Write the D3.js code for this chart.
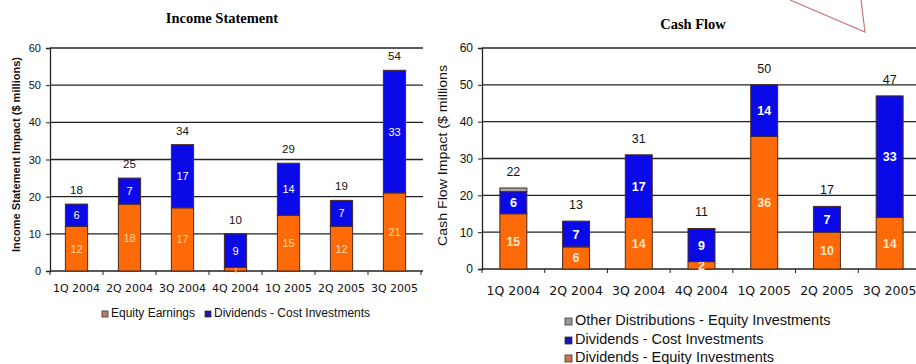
<!DOCTYPE html>
<html>
<head>
<meta charset="utf-8">
<script src="https://cdn.jsdelivr.net/npm/d3@7"></script>
<style>
  body { margin: 0; background: #fff; }
  svg { display: block; }
</style>
</head>
<body>
<svg id="chart" width="916" height="364"></svg>
<script>
// quarters shared by both charts
var quarters = ["1Q 2004", "2Q 2004", "3Q 2004", "4Q 2004", "1Q 2005", "2Q 2005", "3Q 2005"];

// income statement ($ millions)
var equityEarnings = [12, 18, 17, 1, 15, 12, 21];
var incomeCostDividends = [6, 7, 17, 9, 14, 7, 33];

// cash flow ($ millions)
var equityDividends = [15, 6, 14, 2, 36, 10, 14];
var cashCostDividends = [6, 7, 17, 9, 14, 7, 33];
var otherDistributions = [1, 0, 0, 0, 0, 0, 0];

var yTicks = [0, 10, 20, 30, 40, 50, 60];

var ORANGE = "#ff6a08", BLUE = "#0a0ae8", GREY = "#a8a8a8";
var SANS = "Liberation Sans, Arial, sans-serif";

var svg = d3.select("#chart");

// red callout lines at top right
svg.append("path")
    .attr("d", "M790,0 L865,32 L861,0")
    .attr("fill", "none")
    .attr("stroke", "#c87878")
    .attr("stroke-width", 1.2);

function stackedChart(opt) {
    var g = svg.append("g");
    var x = d3.scaleBand()
        .domain(quarters)
        .range([opt.left, opt.right])
        .paddingInner(opt.pad)
        .paddingOuter(opt.pad / 2);
    var y = d3.scaleLinear()
        .domain([0, 60])
        .range([opt.bottom, opt.top]);

    // gridlines
    g.append("g").selectAll("line")
        .data(yTicks.slice(1))
        .enter().append("line")
        .attr("x1", opt.left).attr("x2", opt.gridRight)
        .attr("y1", function (d) { return y(d); })
        .attr("y2", function (d) { return y(d); })
        .attr("stroke", "#222").attr("stroke-width", 1.3);

    // y axis
    var yAxis = g.append("g")
        .attr("transform", "translate(" + opt.left + ",0)")
        .call(d3.axisLeft(y).tickValues(yTicks).tickSize(4).tickPadding(5));
    yAxis.select(".domain").attr("stroke", "#222").attr("stroke-width", 1.3);
    yAxis.selectAll(".tick line").attr("stroke", "#222");
    yAxis.selectAll("text")
        .style("font-family", SANS)
        .style("font-size", opt.tickFont + "px")
        .attr("fill", "#111");

    // x axis with ticks at band boundaries
    var step = x.step();
    var xAxis = g.append("g");
    xAxis.append("line")
        .attr("x1", opt.left).attr("x2", opt.gridRight)
        .attr("y1", opt.bottom).attr("y2", opt.bottom)
        .attr("stroke", "#222").attr("stroke-width", 1.3);
    xAxis.selectAll(".xt")
        .data(d3.range(quarters.length + 1))
        .enter().append("line")
        .attr("x1", function (d) { return opt.left + d * step; })
        .attr("x2", function (d) { return opt.left + d * step; })
        .attr("y1", opt.bottom).attr("y2", opt.bottom + 4)
        .attr("stroke", "#222");
    xAxis.selectAll("text")
        .data(quarters)
        .enter().append("text")
        .attr("x", function (d) { return x(d) + x.bandwidth() / 2; })
        .attr("y", opt.bottom + opt.catGap)
        .attr("text-anchor", "middle")
        .style("font-family", "DejaVu Sans, Verdana, sans-serif")
        .style("font-size", opt.catFont + "px")
        .attr("fill", "#111")
        .text(function (d) { return d; });

    // stacked bars
    var stacked = d3.stack().keys(d3.range(opt.series.length))
        .value(function (d, k) { return opt.series[k].values[d]; })(d3.range(quarters.length));

    stacked.forEach(function (layer, k) {
        var s = opt.series[k];
        var lg = g.append("g");
        lg.selectAll("rect")
            .data(layer.filter(function (d) { return d[1] > d[0]; }))
            .enter().append("rect")
            .attr("x", function (d) { return x(quarters[d.data]); })
            .attr("width", x.bandwidth())
            .attr("y", function (d) { return y(d[1]); })
            .attr("height", function (d) { return y(d[0]) - y(d[1]); })
            .attr("fill", s.color)
            .attr("stroke", "#4a2a20")
            .attr("stroke-width", 1);
        if (s.label) {
            lg.selectAll("text")
                .data(layer.filter(function (d) { return d[1] > d[0]; }))
                .enter().append("text")
                .attr("x", function (d) { return x(quarters[d.data]) + x.bandwidth() / 2; })
                .attr("y", function (d) { return (y(d[0]) + y(d[1])) / 2 + opt.labelFont * 0.36; })
                .attr("text-anchor", "middle")
                .style("font-family", SANS)
                .style("font-size", opt.labelFont + "px")
                .style("font-weight", opt.labelBold ? "bold" : "normal")
                .attr("fill", s.labelColor)
                .text(function (d) { return d[1] - d[0]; });
        }
    });

    // totals above bars
    var top = stacked[stacked.length - 1];
    g.append("g").selectAll("text")
        .data(top)
        .enter().append("text")
        .attr("x", function (d) { return x(quarters[d.data]) + x.bandwidth() / 2; })
        .attr("y", function (d) { return y(d[1]) - opt.totalGap; })
        .attr("text-anchor", "middle")
        .style("font-family", SANS)
        .style("font-size", opt.totalFont + "px")
        .attr("fill", "#111")
        .text(function (d) { return d[1]; });

    // title
    g.append("text")
        .attr("x", opt.titleX).attr("y", opt.titleY)
        .attr("text-anchor", "middle")
        .style("font-family", "Liberation Serif, Times New Roman, serif")
        .style("font-weight", "bold")
        .style("font-size", "14.5px")
        .text(opt.title);

    // y axis title
    g.append("text")
        .attr("transform", "translate(" + opt.yTitleX + "," + ((opt.yTitleTop + opt.yTitleBottom) / 2) + ") rotate(-90)")
        .attr("text-anchor", "middle")
        .attr("textLength", opt.yTitleBottom - opt.yTitleTop)
        .attr("lengthAdjust", "spacingAndGlyphs")
        .style("font-family", SANS)
        .style("font-size", opt.yTitleFont + "px")
        .style("font-weight", opt.yTitleBold ? "bold" : "normal")
        .attr("fill", "#111")
        .text(opt.yTitle);

    // legend
    var lgd = g.append("g");
    opt.legend.forEach(function (item) {
        lgd.append("rect")
            .attr("x", item.x).attr("y", item.y - item.size + 1)
            .attr("width", item.size - 1).attr("height", item.size - 1)
            .attr("fill", item.color).attr("stroke", "#333").attr("stroke-width", 0.8);
        lgd.append("text")
            .attr("x", item.x + item.size + 2).attr("y", item.y)
            .style("font-family", SANS)
            .style("font-size", opt.legendFont + "px")
            .attr("fill", "#111")
            .text(item.text);
    });
}

stackedChart({
    left: 50, right: 421, gridRight: 423, top: 48, bottom: 271, pad: 0.58,
    series: [
        { values: equityEarnings, color: ORANGE, label: true, labelColor: "#ffd9a0" },
        { values: incomeCostDividends, color: BLUE, label: true, labelColor: "#ffffff" }
    ],
    tickFont: 11, catFont: 11, catGap: 21, labelFont: 11, labelBold: false, totalFont: 11.5, totalGap: 10,
    title: "Income Statement", titleX: 222, titleY: 23,
    yTitle: "Income Statement Impact ($ millions)", yTitleX: 20, yTitleTop: 57, yTitleBottom: 252,
    yTitleFont: 10, yTitleBold: true,
    legendFont: 12,
    legend: [
        { x: 102, y: 317, size: 7, color: "#b8806a", text: "Equity Earnings" },
        { x: 205, y: 317, size: 7, color: "#1a1a9a", text: "Dividends - Cost Investments" }
    ]
});

stackedChart({
    left: 482, right: 921, gridRight: 921, top: 48, bottom: 269, pad: 0.57,
    series: [
        { values: equityDividends, color: ORANGE, label: true, labelColor: "#ffe6c8" },
        { values: cashCostDividends, color: BLUE, label: true, labelColor: "#ffffff" },
        { values: otherDistributions, color: GREY, label: false }
    ],
    tickFont: 12, catFont: 12.5, catGap: 26, labelFont: 12.5, labelBold: true, totalFont: 12.5, totalGap: 12,
    title: "Cash Flow", titleX: 693, titleY: 29,
    yTitle: "Cash Flow Impact ($ millions", yTitleX: 447, yTitleTop: 65, yTitleBottom: 246,
    yTitleFont: 12, yTitleBold: false,
    legendFont: 14.5,
    legend: [
        { x: 565, y: 325, size: 8, color: "#9a9a9a", text: "Other Distributions - Equity Investments" },
        { x: 565, y: 344, size: 8, color: "#1515b0", text: "Dividends - Cost Investments" },
        { x: 565, y: 362, size: 8, color: "#c87848", text: "Dividends - Equity Investments" }
    ]
});
</script>
</body>
</html>
